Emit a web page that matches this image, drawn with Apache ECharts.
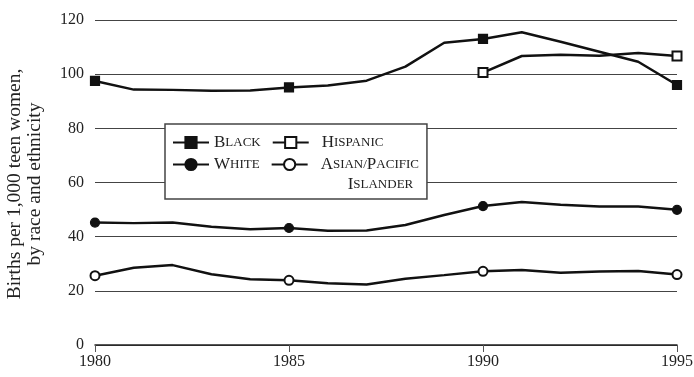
<!DOCTYPE html>
<html lang="en">
<head>
    <meta charset="UTF-8" />
    <title>Teen births</title>
    <script src="https://cdn.jsdelivr.net/npm/echarts@6/dist/echarts.min.js"></script>
    <style>
        html, body { margin: 0; padding: 0; background: #fff; }
    </style>
</head>
<body>
    <div style="width: 694px; height: 377px" id="chart"></div>
    <script>
        const myChart = echarts.init(document.getElementById("chart"));

        // data
        const years = [1980, 1981, 1982, 1983, 1984, 1985, 1986, 1987, 1988, 1989, 1990, 1991, 1992, 1993, 1994, 1995];
        const black = [97.5, 94.3, 94.2, 93.9, 94.0, 95.1, 95.8, 97.6, 102.8, 111.6, 113.0, 115.5, 112.0, 108.3, 104.6, 96.0];
        const hispanic = [null, null, null, null, null, null, null, null, null, null, 100.6, 106.7, 107.2, 106.8, 107.8, 106.7];
        const white = [45.2, 45.0, 45.2, 43.7, 42.7, 43.2, 42.2, 42.3, 44.3, 48.0, 51.3, 52.8, 51.8, 51.1, 51.1, 49.9];
        const asian = [25.6, 28.5, 29.5, 26.1, 24.3, 23.9, 22.8, 22.3, 24.5, 25.8, 27.2, 27.7, 26.7, 27.1, 27.3, 26.0];
        const markerYears = [1980, 1985, 1990, 1995];

        const FONT = "Liberation Serif";
        const INK = "#111";

        // markers only every 5 years
        function toData(vals) {
            return years.map(function (y, i) {
                const v = vals[i] == null ? "-" : vals[i];
                const item = { value: [y, v] };
                if (markerYears.indexOf(y) < 0) item.symbol = "none";
                return item;
            });
        }

        function makeSeries(name, vals, symbol, size) {
            return {
                name: name,
                type: "line",
                data: toData(vals),
                symbol: symbol,
                symbolSize: size,
                showAllSymbol: true,
                lineStyle: { color: INK, width: 2.5 },
                itemStyle: { color: INK, borderColor: INK, borderWidth: 1.2 },
                emphasis: { disabled: true },
                animation: false,
            };
        }

        // small caps labels, {g} is spacing before the second column
        const legendText = {
            Black: "{c|B}{s|LACK}{g| }",
            Hispanic: "{c|H}{s|ISPANIC}",
            White: "{c|W}{s|HITE}{g| }",
            Asian: "{c|A}{s|SIAN/}{c|P}{s|ACIFIC}\n         {c|I}{s|SLANDER}",
        };

        option = {
            backgroundColor: "#fff",
            grid: { left: 95, right: 17, top: 20, bottom: 32, outerBoundsMode: "none", containLabel: false },
            legend: {
                left: 165,
                top: 124,
                width: 280,
                padding: [10, 8, 6, 7],
                itemWidth: 36,
                itemHeight: 14,
                itemGap: 5,
                backgroundColor: "#fff",
                borderColor: "#444",
                borderWidth: 1.5,
                borderRadius: 0,
                selectedMode: false,
                data: [
                    { name: "Black" },
                    { name: "Hispanic", textStyle: { padding: [0, 0, 0, 8] } },
                    { name: "White" },
                    { name: "Asian", textStyle: { padding: [20, 0, 0, 8] } },
                ],
                formatter: function (name) {
                    return legendText[name];
                },
                textStyle: {
                    color: "#222",
                    fontFamily: FONT,
                    rich: {
                        c: { fontSize: 17, lineHeight: 20, fontFamily: FONT, color: "#222" },
                        s: { fontSize: 13, lineHeight: 20, fontFamily: FONT, color: "#222" },
                        g: { width: 6, fontSize: 13, lineHeight: 20 },
                    },
                },
            },
            xAxis: {
                type: "value",
                min: 1980,
                max: 1995,
                interval: 5,
                axisLine: { show: true, onZero: false, lineStyle: { color: "#222", width: 1.5 } },
                axisTick: { show: true, inside: false, length: 7, lineStyle: { color: "#555", width: 1 } },
                splitLine: { show: false },
                axisLabel: {
                    color: "#222",
                    fontFamily: FONT,
                    fontSize: 16,
                    margin: 9,
                    showMaxLabel: true,
                    formatter: function (v) {
                        return String(v);
                    },
                },
            },
            yAxis: {
                type: "value",
                min: 0,
                max: 120,
                interval: 20,
                name: "Births per 1,000 teen women,\nby race and ethnicity",
                nameLocation: "middle",
                nameGap: 50,
                nameTextStyle: { color: "#222", fontFamily: FONT, fontSize: 19.5, lineHeight: 20, padding: [0, 3, 0, 0] },
                axisLine: { show: false },
                axisTick: { show: false },
                splitLine: { show: true, lineStyle: { color: "#444", width: 1 } },
                axisLabel: { color: "#222", fontFamily: FONT, fontSize: 16, margin: 11 },
            },
            series: [
                makeSeries("Black", black, "rect", 9),
                makeSeries("Hispanic", hispanic, "emptyRect", 9),
                makeSeries("White", white, "circle", 9),
                makeSeries("Asian", asian, "emptyCircle", 9),
            ],
        };

        myChart.setOption(option);
    </script>
</body>
</html>
